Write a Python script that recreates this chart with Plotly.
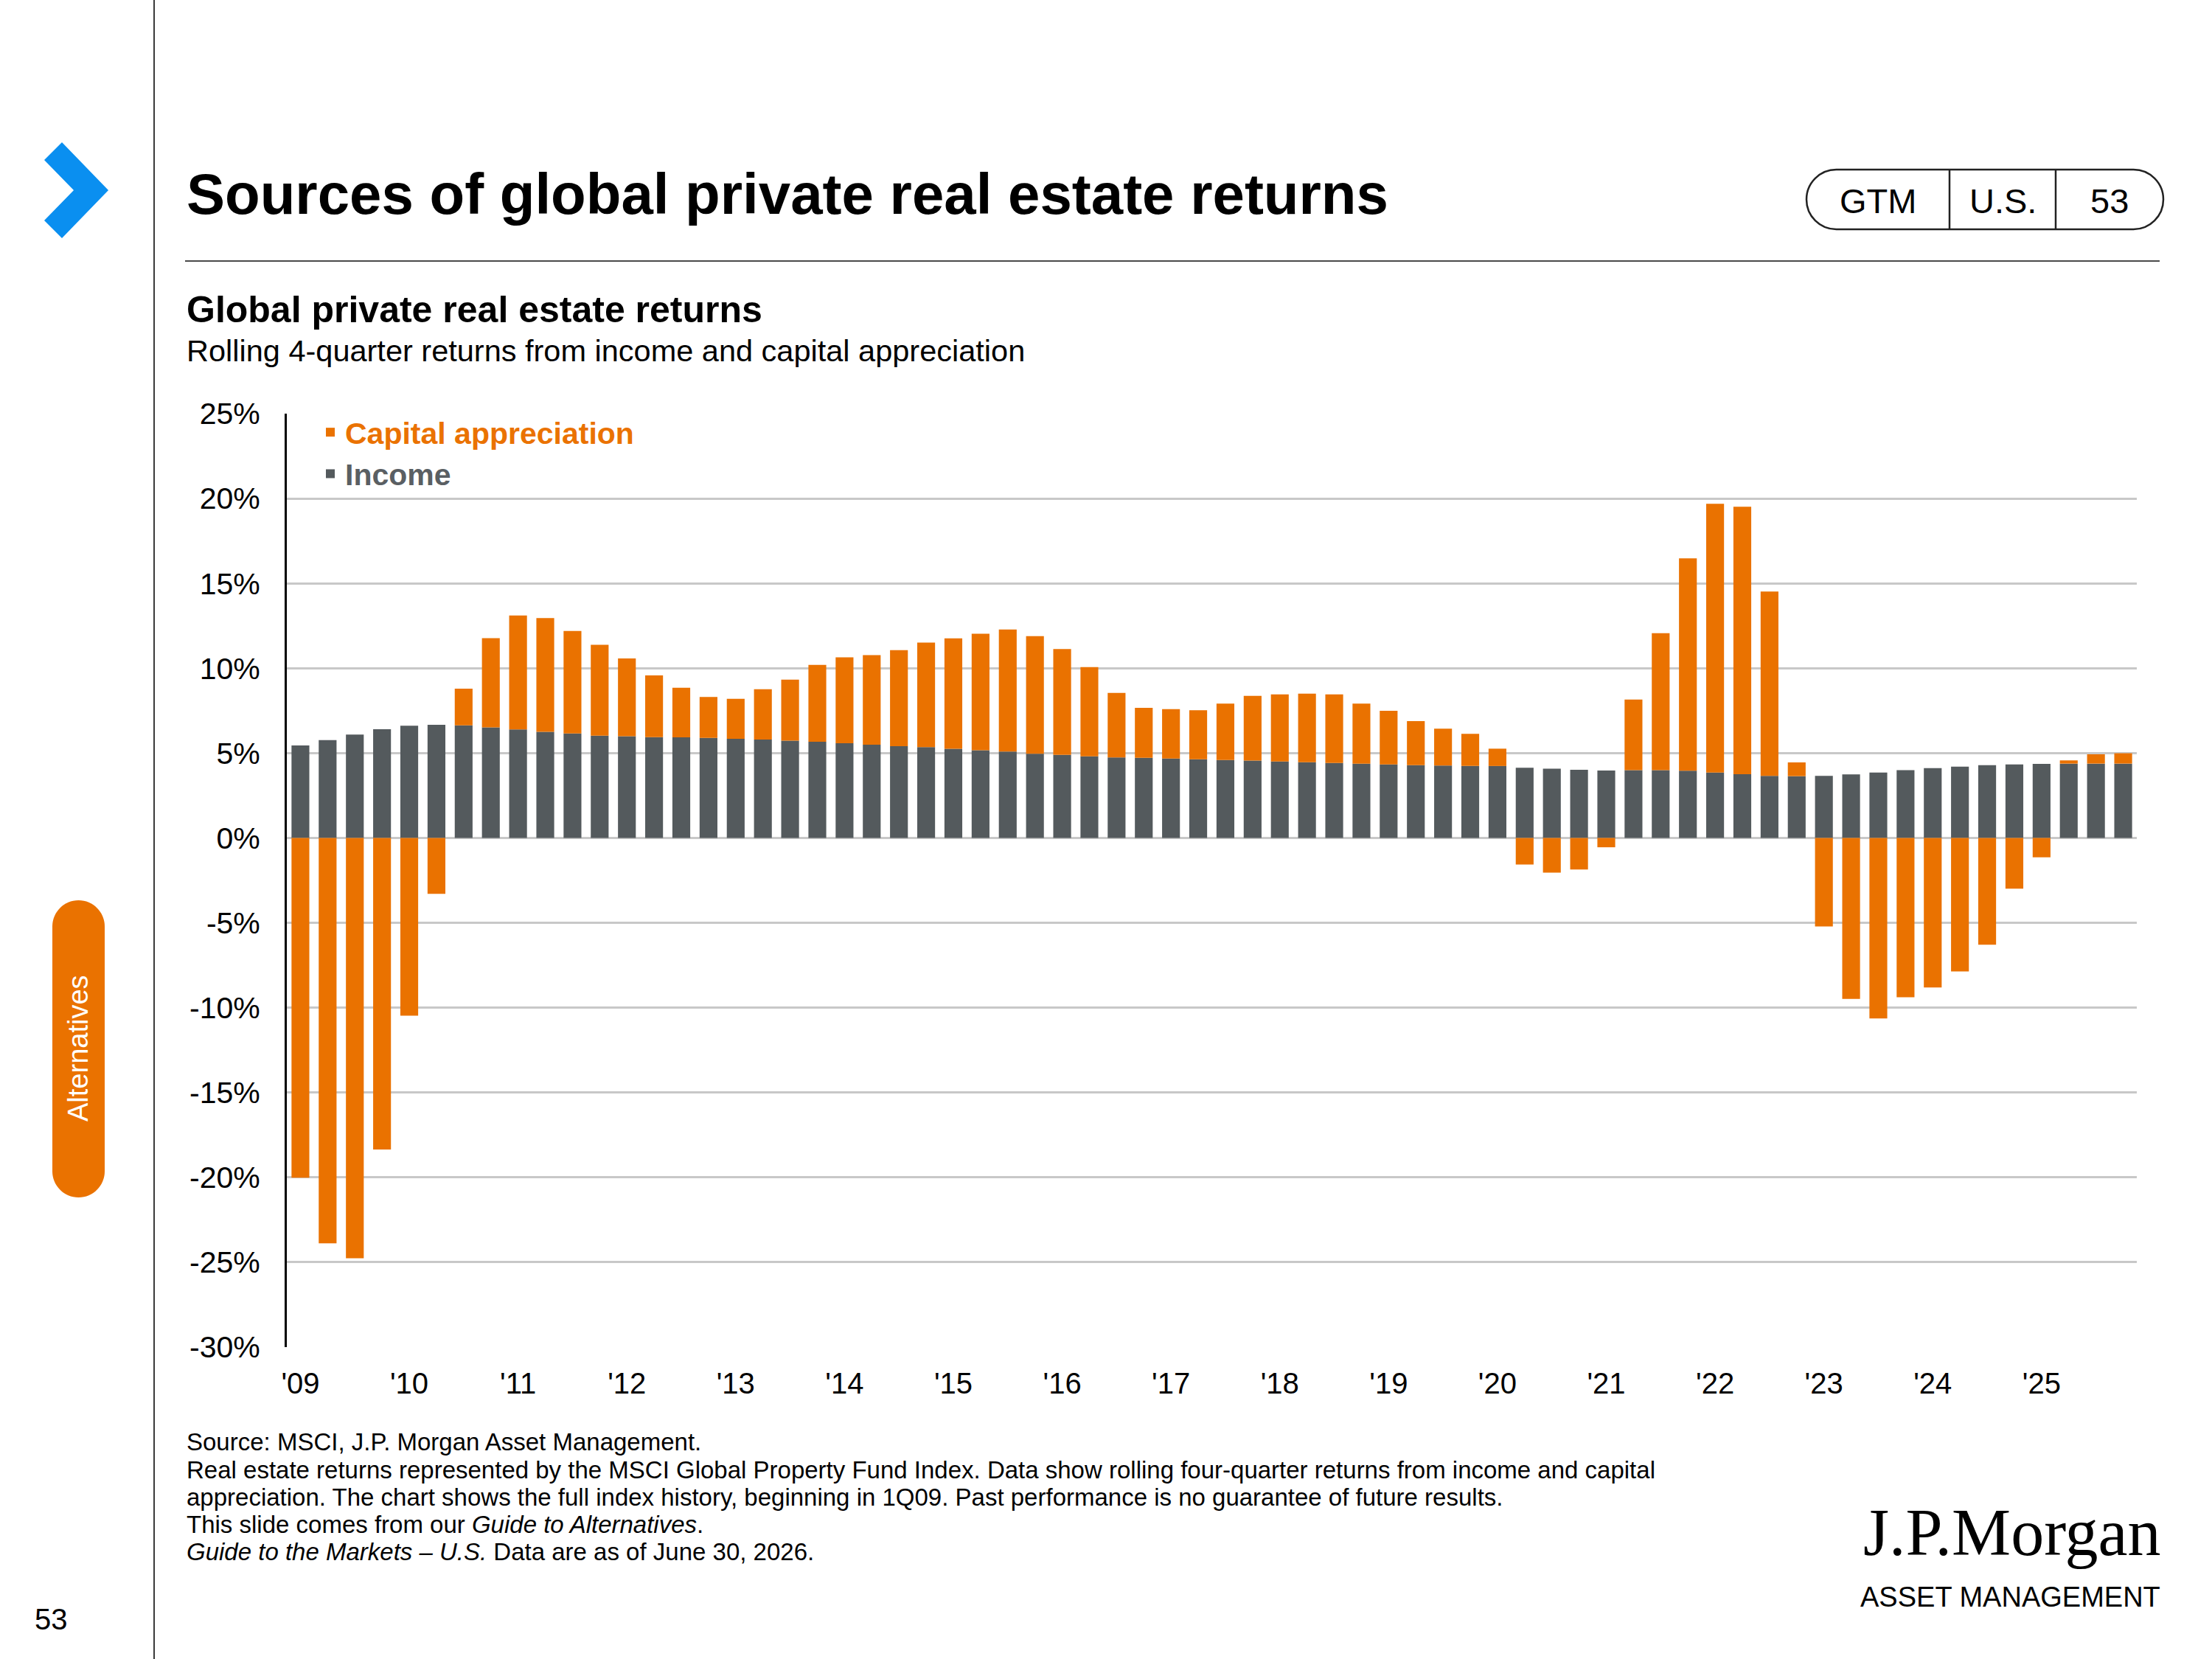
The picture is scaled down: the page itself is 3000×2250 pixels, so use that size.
import plotly.graph_objects as go

W, H = 3000, 2250
FONT = "Liberation Sans"
ORANGE = "#EA7200"
GRAY = "#545A5D"

# rolling 4-quarter returns, 1Q09 .. 4Q25 (%)
quarters = [f"{q}Q{y:02d}" for y in range(9, 26) for q in range(1, 5)]
income = [5.45, 5.76, 6.09, 6.41, 6.61, 6.67, 6.63, 6.51, 6.40, 6.25,
          6.16, 6.03, 5.99, 5.94, 5.93, 5.90, 5.84, 5.80, 5.73, 5.67,
          5.58, 5.49, 5.41, 5.35, 5.26, 5.17, 5.09, 4.96, 4.90, 4.81,
          4.74, 4.72, 4.68, 4.64, 4.59, 4.56, 4.51, 4.46, 4.42, 4.37,
          4.33, 4.29, 4.27, 4.24, 4.24, 4.14, 4.08, 4.02, 3.97, 4.00,
          4.00, 3.96, 3.85, 3.76, 3.66, 3.64, 3.66, 3.75, 3.85, 3.99,
          4.11, 4.20, 4.29, 4.33, 4.36, 4.38, 4.38, 4.38]
capital = [-20.02, -23.88, -24.77, -18.36, -10.47, -3.29, 2.16, 5.26, 6.71, 6.70,
           6.03, 5.35, 4.59, 3.64, 2.92, 2.41, 2.36, 2.96, 3.60, 4.53,
           5.06, 5.28, 5.65, 6.16, 6.50, 6.86, 7.19, 6.93, 6.23, 5.26,
           3.81, 2.95, 2.91, 2.89, 3.33, 3.81, 3.95, 4.04, 4.04, 3.55,
           3.16, 2.59, 2.17, 1.89, 1.02, -1.57, -2.04, -1.86, -0.55, 4.15,
           8.06, 12.51, 15.84, 15.75, 10.86, 0.81, -5.22, -9.48, -10.64, -9.39,
           -8.81, -7.87, -6.29, -2.99, -1.14, 0.19, 0.55, 0.61]
year_labels = ["'09", "'10", "'11", "'12", "'13", "'14", "'15", "'16", "'17",
               "'18", "'19", "'20", "'21", "'22", "'23", "'24", "'25"]
y_ticks = [25, 20, 15, 10, 5, 0, -5, -10, -15, -20, -25, -30]
y_tick_text = ["25%", "20%", "15%", "10%", "5%", "0%", "-5%", "-10%", "-15%",
               "-20%", "-25%", "-30%"]

xpos = list(range(len(quarters)))
label_pos = [i for i, q in enumerate(quarters) if q.startswith("1Q")]
boundary_pos = [p - 0.5 for p in label_pos[1:]] + [len(quarters) - 0.5]

y_min, y_max = min(y_ticks), max(y_ticks)
dom_x = [389 / W, 2898 / W]
dom_y = [1 - 1827 / H, 1 - 561 / H]
zero_pos = dom_y[0] + (0 - y_min) / (y_max - y_min) * (dom_y[1] - dom_y[0])


def X(v):
    return v / W


def Y(v):
    return 1 - v / H


def rounded(x0, y0, x1, y1, r):
    k = 0.5523 * r
    p = lambda a, b: f"{X(a):.5f},{Y(b):.5f}"
    return (f"M {p(x0 + r, y0)} L {p(x1 - r, y0)} "
            f"C {p(x1 - r + k, y0)} {p(x1, y0 + r - k)} {p(x1, y0 + r)} "
            f"L {p(x1, y1 - r)} "
            f"C {p(x1, y1 - r + k)} {p(x1 - r + k, y1)} {p(x1 - r, y1)} "
            f"L {p(x0 + r, y1)} "
            f"C {p(x0 + r - k, y1)} {p(x0, y1 - r + k)} {p(x0, y1 - r)} "
            f"L {p(x0, y0 + r)} "
            f"C {p(x0, y0 + r - k)} {p(x0 + r - k, y0)} {p(x0 + r, y0)} Z")


fig = go.Figure()
fig.add_trace(go.Bar(
    x=xpos, y=income, name="<b><span style='color:#5A5F63'>Income</span></b>",
    legendgroup="income",
    marker=dict(color=GRAY, line=dict(width=0)), customdata=quarters,
    hovertemplate="%{customdata}: %{y:.2f}%<extra>Income</extra>",
))
fig.add_trace(go.Bar(
    x=xpos, y=capital,
    name=f"<b><span style='color:{ORANGE}'>Capital appreciation</span></b>",
    legendgroup="capital",
    marker=dict(color=ORANGE, line=dict(width=0)), customdata=quarters,
    hovertemplate="%{customdata}: %{y:.2f}%<extra>Capital appreciation</extra>",
))

shapes = [
    # left page rule
    dict(type="line", xref="paper", yref="paper", x0=X(209), x1=X(209), y0=0, y1=1,
         line=dict(color="#3A3A3A", width=2)),
    # header rule
    dict(type="line", xref="paper", yref="paper", x0=X(251), x1=X(2929), y0=Y(354), y1=Y(354),
         line=dict(color="#4A4A4A", width=2)),
    # blue chevron
    dict(type="path", xref="paper", yref="paper",
         path=(f"M {X(84)},{Y(193)} L {X(147)},{Y(258)} L {X(84)},{Y(323)} "
               f"L {X(60)},{Y(299)} L {X(100)},{Y(258)} L {X(60)},{Y(217)} Z"),
         fillcolor="#0A8FF0", line=dict(width=0)),
    # GTM pill
    dict(type="path", xref="paper", yref="paper", path=rounded(2450, 230, 2934, 311, 40.5),
         fillcolor="white", line=dict(color="#222222", width=2.5)),
    dict(type="line", xref="paper", yref="paper", x0=X(2644), x1=X(2644), y0=Y(230), y1=Y(311),
         line=dict(color="#222222", width=2.5)),
    dict(type="line", xref="paper", yref="paper", x0=X(2788), x1=X(2788), y0=Y(230), y1=Y(311),
         line=dict(color="#222222", width=2.5)),
    # section tab
    dict(type="path", xref="paper", yref="paper", path=rounded(71, 1221, 142, 1624, 35.5),
         fillcolor=ORANGE, line=dict(width=0)),
]


def txt(x, y, s, size, color="black", xanchor="left", family=FONT, **kw):
    return dict(x=X(x), y=Y(y), xref="paper", yref="paper", text=s, showarrow=False,
                xanchor=xanchor, yanchor="middle", align=xanchor if xanchor != "center" else "center",
                font=dict(family=family, size=size, color=color), **kw)


notes = [
    "Source: MSCI, J.P. Morgan Asset Management.",
    "Real estate returns represented by the MSCI Global Property Fund Index. Data show rolling "
    "four-quarter returns from income and capital",
    "appreciation. The chart shows the full index history, beginning in 1Q09. Past performance "
    "is no guarantee of future results.",
    "This slide comes from our <i>Guide to Alternatives</i>.",
    "<i>Guide to the Markets – U.S.</i> Data are as of June 30, 2026.",
]
note_y = [1955, 1993, 2030, 2067, 2104]

annotations = [
    txt(251, 263, "<b>Sources of global private real estate returns</b>", 78),
    txt(251, 420, "<b>Global private real estate returns</b>", 50),
    txt(251, 475, "Rolling 4-quarter returns from income and capital appreciation", 41.5),
    txt(2547, 273, "GTM", 47, xanchor="center"),
    txt(2716, 273, "U.S.", 47, xanchor="center"),
    txt(2861, 273, "53", 47, xanchor="center"),
    txt(106, 1422, "Alternatives", 38, color="white", xanchor="center", textangle=-90),
    txt(69, 2196, "53", 40, xanchor="center"),
    txt(2932, 2078, "J.P.Morgan", 90, xanchor="right", family="Liberation Serif"),
    txt(2932, 2166, "ASSET MANAGEMENT", 38, xanchor="right"),
]
for s, yy in zip(notes, note_y):
    annotations.append(txt(251, yy, s, 33))

fig.update_layout(
    width=W, height=H,
    margin=dict(l=0, r=0, t=0, b=0, autoexpand=False),
    paper_bgcolor="white", plot_bgcolor="white",
    barmode="relative", bargap=0.345,
    font=dict(family=FONT, size=40, color="black"),
    showlegend=True,
    legend=dict(x=X(428), y=Y(553), xanchor="left", yanchor="top",
                traceorder="reversed", tracegroupgap=5,
                font=dict(family=FONT, size=41),
                bgcolor="rgba(0,0,0,0)", itemclick=False),
    xaxis=dict(domain=dom_x, range=[-0.5, len(quarters) - 0.5], anchor="y",
               tickmode="array", tickvals=label_pos, ticktext=year_labels,
               showgrid=False, zeroline=False, showline=False, ticks="",
               ticklabelstandoff=22, tickfont=dict(size=40, color="black"),
               automargin=False),
    xaxis2=dict(domain=dom_x, range=[-0.5, len(quarters) - 0.5], overlaying="x",
                anchor="free", position=zero_pos, side="bottom",
                tickmode="array", tickvals=boundary_pos, showticklabels=False,
                ticks="outside", ticklen=13, tickwidth=3, tickcolor="black",
                showline=True, linecolor="black", linewidth=4,
                showgrid=False, zeroline=False, automargin=False),
    yaxis=dict(domain=dom_y, range=[y_min, y_max],
               tickmode="array", tickvals=y_ticks, ticktext=y_tick_text,
               showgrid=True, gridcolor="#C8C8C8", gridwidth=2.5,
               zeroline=False, showline=True, linecolor="black", linewidth=3,
               ticks="", ticklabelstandoff=25, tickfont=dict(size=41, color="black"),
               automargin=False),
    shapes=shapes,
    annotations=annotations,
)

fig.write_html(
    "out.html",
    config={"displayModeBar": False},
    post_script="document.body.style.margin='0';document.body.style.overflow='hidden';",
)
